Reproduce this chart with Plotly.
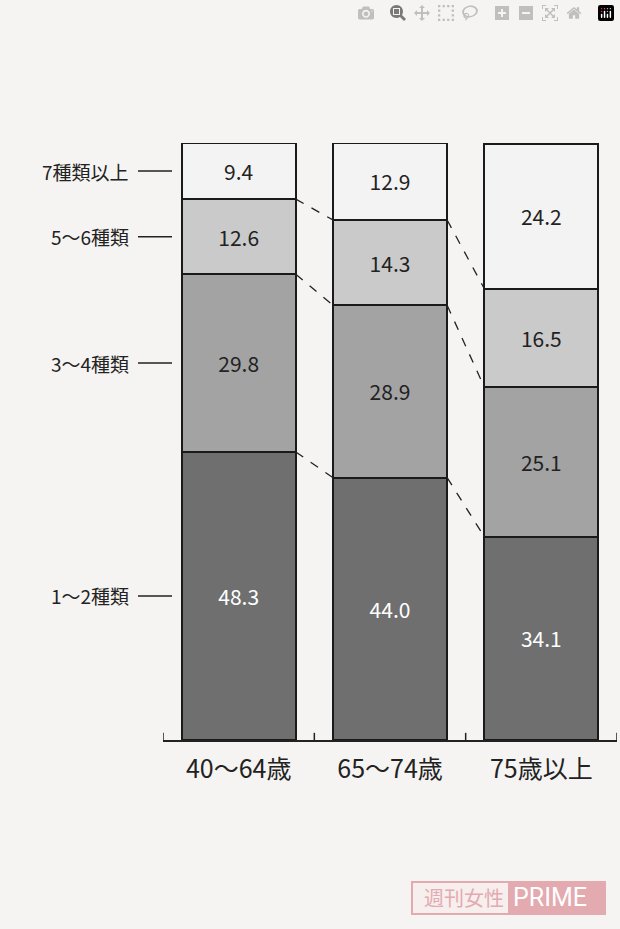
import plotly.graph_objects as go

groups = ['40～64歳', '65～74歳', '75歳以上']
levels = ['1～2種類', '3～4種類', '5～6種類', '7種類以上']
values = {
    '1～2種類': [48.3, 44.0, 34.1],
    '3～4種類': [29.8, 28.9, 25.1],
    '5～6種類': [12.6, 14.3, 16.5],
    '7種類以上': [9.4, 12.9, 24.2],
}
colors = ['#6f6f6f', '#a3a3a3', '#cacaca', '#f3f3f3']
text_colors = ['white', '#222', '#222', '#222']

W, H = 620, 929
L, R, T, B = 163, 3, 143, 189
PW, PH = W - L - R, H - T - B
font = 'Noto Sans CJK JP, sans-serif'
bw = 0.755
xs = [0, 1, 2]


def px(xp):  # pixel x -> paper
    return (xp - L) / PW


def py(yp):  # pixel y -> paper
    return (H - B - yp) / PH


fig = go.Figure()
for lv, c, tc in zip(levels, colors, text_colors):
    fig.add_trace(go.Bar(
        x=xs, y=values[lv], name=lv, width=bw,
        marker=dict(color=c, line=dict(color='#1a1a1a', width=2)),
        text=[f'{v:.1f}' for v in values[lv]], textposition='inside',
        insidetextanchor='middle', textangle=0,
        textfont=dict(color=tc, size=21, family=font),
    ))

cum = []
for i in xs:
    s, row = 0, []
    for lv in levels:
        s += values[lv][i]
        row.append(s)
    cum.append(row)

ytop = 100.1
shapes = []
for i in range(2):
    for k in range(3):
        shapes.append(dict(type='line', xref='x', yref='y',
                           x0=i + bw / 2, x1=i + 1 - bw / 2,
                           y0=cum[i][k], y1=cum[i + 1][k],
                           line=dict(color='#222', width=1.3, dash='dash')))

annotations = []
prev = 0
for k, lv in enumerate(levels):
    mid = (prev + cum[0][k]) / 2
    prev = cum[0][k]
    shapes.append(dict(type='line', xref='paper', yref='y', x0=px(138), x1=px(172),
                       y0=mid, y1=mid, line=dict(color='#222', width=1.5)))
    annotations.append(dict(x=px(131), y=mid, xref='paper', yref='y', text=lv,
                            showarrow=False, xanchor='right',
                            font=dict(size=19, color='#222', family=font)))

for t in [-0.5, 0.5, 1.5, 2.5]:
    shapes.append(dict(type='line', xref='x', yref='paper', x0=t, x1=t,
                       y0=0, y1=0.012, line=dict(color='#222', width=1.5)))

# watermark
shapes.append(dict(type='rect', xref='paper', yref='paper',
                   x0=px(412), x1=px(605), y0=py(914), y1=py(882),
                   line=dict(color='#e3aab0', width=2), fillcolor='#f7eeee', layer='above'))
shapes.append(dict(type='rect', xref='paper', yref='paper',
                   x0=px(508), x1=px(605), y0=py(914), y1=py(882),
                   line=dict(width=0), fillcolor='#e3aab0', layer='above'))
annotations.append(dict(x=px(506), y=py(898), xref='paper', yref='paper',
                        text='週刊女性', showarrow=False, xanchor='right', yanchor='middle',
                        font=dict(size=20, color='#e3aab0', family=font)))
annotations.append(dict(x=px(511), y=py(898), xref='paper', yref='paper',
                        text='PRIME', showarrow=False, xanchor='left', yanchor='middle',
                        font=dict(size=25, color='white', family='Roboto, sans-serif')))

fig.update_layout(
    width=W, height=H, barmode='stack', showlegend=False,
    paper_bgcolor='#f6f4f2', plot_bgcolor='#f6f4f2',
    margin=dict(l=L, r=R, t=T, b=B),
    shapes=shapes, annotations=annotations,
)
fig.update_xaxes(range=[-0.5, 2.5], tickvals=xs, ticktext=groups,
                 tickfont=dict(size=25, color='#222', family=font),
                 showline=True, linecolor='#222', linewidth=1.5,
                 showgrid=False, zeroline=False, ticks='', ticklabelstandoff=6)
fig.update_yaxes(range=[0, ytop], visible=False, showgrid=False)

fig.write_html('out.html', post_script="document.body.style.margin='0';")
